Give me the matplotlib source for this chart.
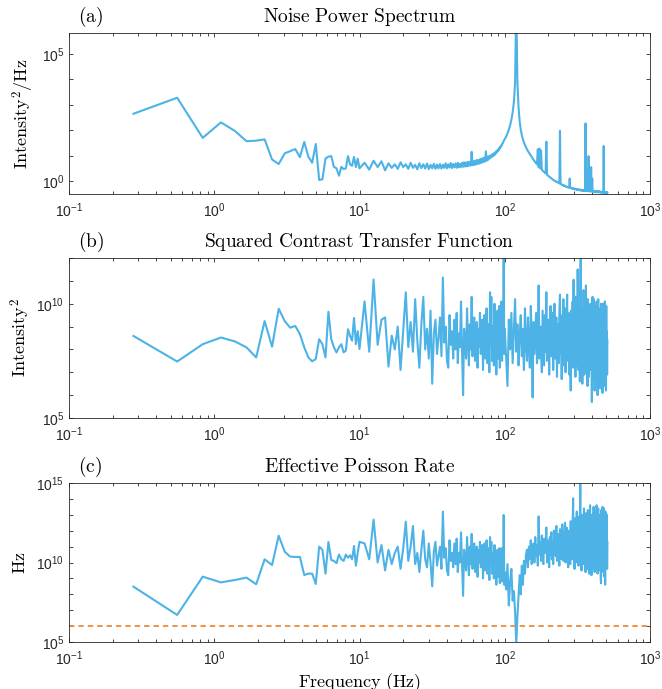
import numpy as np
import matplotlib.pyplot as plt
from matplotlib.ticker import LogLocator, NullLocator

plt.rcParams['font.family'] = 'Liberation Sans'

# frequency bins of the spectrum (bin width 1/3.6 Hz); every bin below 10 Hz,
# every 3rd bin up to 100 Hz, every 8th bin above
df = 1 / 3.6
bins = np.r_[1:37, 39:358:3, 360:1833:8]
freq = df * bins

# (a) noise power spectrum, log10 values
nps_low = [2.65, 3.28, 1.70, 2.31, 1.97, 1.57, 1.59, 1.64, 0.85, 0.67, 1.09, 1.18,
           1.26, 0.94, 1.54, 0.96, 0.72, 1.46, 0.04, 0.07, 0.89, 0.96, 0.98, 0.56,
           0.50, 0.21, 0.56, 0.47, 0.50, 0.98, 0.66, 0.60, 0.95, 0.55, 0.88, 0.50]
nps_mid = [0.72, 0.45, 0.80, 0.55, 0.78, 0.42, 0.70, 0.52, 0.66, 0.48, 0.74, 0.55,
           0.66, 0.48, 0.72, 0.52, 0.64, 0.46, 0.70, 0.51, 0.66, 0.49, 0.69, 0.47,
           0.64, 0.50, 0.68, 0.48, 0.65, 0.50, 0.67, 0.49, 0.64, 0.52, 0.70, 0.50,
           0.66, 0.53, 0.71, 0.51, 0.67, 0.54, 0.69, 0.52, 0.72, 0.54, 0.68, 0.55,
           0.72, 0.56, 0.74, 0.57, 0.73, 0.58, 0.76, 0.60, 0.75, 0.61, 1.15, 0.63,
           0.78, 0.63, 0.80, 0.65, 0.83, 0.67, 0.82, 0.69, 0.86, 0.71, 0.88, 0.73,
           0.90, 0.75, 0.92, 0.78, 1.17, 0.80, 0.96, 0.83, 0.98, 0.88, 0.99, 0.92,
           1.03, 0.95, 1.06, 0.99, 1.10, 1.02, 1.13, 1.08, 1.18, 1.13, 1.22, 1.18,
           1.28, 1.24, 1.33, 1.31, 1.39, 1.38, 1.46, 1.47, 1.53, 1.57, 1.62]
nps_high = [1.65, 1.75, 1.88, 2.02, 2.20, 2.42, 2.70, 3.10, 3.85, 7.00,
            3.90, 2.90, 2.35, 2.02, 1.80, 1.64, 1.52, 1.42, 1.33, 1.25,
            1.18, 1.12, 1.06, 1.00, 0.95, 0.89, 0.84, 0.79, 0.74, 0.70,
            0.66, 1.25, 0.55, 1.28, 0.50, 1.20, 0.44, 0.42, 0.38, 0.36,
            0.33, 0.30, 1.55, 0.24, 0.22, 0.20, 0.17, 0.16, 0.13, 0.12,
            0.09, 0.07, 0.04, 0.04, 0.01, 0.00, -0.02, -0.01, -0.04, -0.05,
            -0.07, -0.06, -0.09, 1.98, -0.12, -0.11, -0.14, -0.16, -0.15, -0.18,
            -0.17, -0.20, -0.19, -0.21, -0.23, -0.22, -0.24, -0.23, -0.25, -0.26,
            -0.24, 0.10, -0.27, -0.26, -0.28, -0.29, -0.27, -0.30, -0.29, -0.31,
            -0.30, -0.32, -0.30, -0.33, -0.31, -0.34, -0.32, -0.33, -0.35, -0.33,
            -0.34, -0.36, -0.33, -0.35, -0.37, -0.34, -0.36, -0.38, -0.35, -0.37,
            -0.36, -0.38, -0.35, -0.39, -0.37, -0.36, -0.38, 2.27, -0.40, -0.37,
            -0.39, -0.38, 0.40, -0.36, -0.40, 0.98, -0.35, -0.41, 0.20, -0.38,
            -0.40, -0.37, 0.55, -0.42, -0.38, 0.10, -0.41, -0.39, -0.43, -0.40,
            -0.41, -0.38, -0.43, -0.40, -0.42, -0.39, -0.44, -0.41, -0.40, -0.43,
            -0.42, -0.44, -0.41, -0.43, -0.40, -0.45, -0.42, -0.43, -0.41, -0.44,
            -0.43, -0.45, -0.42, -0.44, -0.43, -0.46, -0.42, -0.44, -0.45, -0.43,
            -0.44, 1.38, -0.46, -0.43, -0.45, -0.44, -0.47, -0.44, -0.45, -0.46,
            -0.44, -0.46, -0.45, -0.47, -0.45]

# (b) squared contrast transfer function, log10 values
ctf_low = [8.59, 7.47, 8.23, 8.52, 8.35, 8.09, 7.65, 9.24, 8.12, 9.78, 9.24, 8.95,
           9.03, 8.67, 8.09, 7.65, 7.48, 7.58, 8.45, 8.23, 7.65, 9.65, 8.45, 8.09,
           7.87, 8.09, 8.23, 7.87, 7.95, 8.88, 8.59, 8.38, 9.38, 8.23, 8.80, 8.02]
ctf_mid = [10.1, 7.9, 11.06, 8.2, 9.3, 9.4, 7.25, 8.6, 8.0, 9.0, 7.1, 8.8,
           10.5, 8.1, 9.2, 7.9, 10.2, 8.4, 7.2, 9.1, 10.3, 8.0, 8.9, 7.6,
           9.7, 6.5, 8.7, 9.3, 7.8, 8.5, 9.4, 7.7, 11.15, 8.3, 9.0, 7.5,
           7.2, 9.5, 8.2, 8.8, 7.6, 9.3, 8.0, 9.6, 7.4, 8.7, 8.1, 10.1,
           7.9, 6.0, 8.9, 8.3, 7.6, 9.8, 8.4, 7.3, 9.1, 8.0, 10.3, 7.7,
           8.8, 9.4, 7.5, 8.6, 9.2, 7.2, 8.9, 8.1, 9.6, 7.8, 8.5, 9.3,
           7.1, 8.7, 9.5, 7.6, 8.3, 9.8, 7.4, 8.9, 9.1, 7.0, 10.5, 8.2,
           10.3, 7.5, 9.0, 8.6, 7.3, 10.0, 8.1, 9.4, 6.9, 8.8, 9.7, 7.6,
           8.4, 9.9, 7.2, 9.0, 8.3, 10.1, 7.5, 9.2, 8.0, 12.0, 7.8]
ctf_high = [8.9, 7.6, 6.4, 9.3, 8.0, 9.6, 7.4, 8.8, 10.2, 7.9,
            9.1, 7.3, 8.6, 9.5, 7.7, 8.9, 7.1, 9.8, 8.2, 7.5,
            9.4, 8.0, 7.2, 9.9, 8.5, 5.9, 9.2, 7.8, 8.7, 9.6,
            7.4, 8.3, 10.8, 7.6, 9.0, 8.1, 7.0, 9.7, 8.4, 7.3,
            9.5, 7.9, 10.5, 7.5, 8.8, 9.3, 6.9, 8.6, 9.9, 7.7,
            8.2, 9.6, 7.1, 8.9, 10.0, 7.6, 8.4, 9.4, 6.8, 9.1,
            8.0, 7.4, 9.7, 10.4, 7.8, 8.7, 6.7, 9.5, 8.3, 10.2,
            7.3, 8.9, 9.8, 7.0, 8.5, 9.3, 10.4, 7.5, 8.1, 9.6,
            6.9, 9.0, 8.4, 6.2, 9.7, 7.8, 8.8, 10.1, 7.2, 11.05,
            7.6, 9.4, 8.2, 6.8, 10.3, 7.9, 9.1, 7.3, 11.5, 8.5,
            7.1, 9.9, 8.0, 6.6, 10.5, 12.0, 7.4, 9.2, 8.7, 6.5,
            9.8, 7.7, 10.6, 8.3, 6.9, 9.5, 7.2, 8.8, 10.8, 7.0,
            9.3, 8.1, 6.4, 10.2, 7.8, 9.0, 6.8, 9.7, 8.4, 7.1,
            10.0, 7.5, 8.9, 9.6, 5.7, 8.6, 10.3, 7.3, 9.1, 6.7,
            10.2, 8.0, 6.2, 9.5, 7.7, 9.9, 6.5, 8.8, 10.1, 7.2,
            9.4, 6.0, 8.5, 10.2, 7.6, 9.0, 6.9, 9.7, 8.2, 6.3,
            9.8, 7.4, 10.0, 8.7, 6.6, 9.3, 7.9, 6.1, 9.6, 10.0,
            7.0, 8.9, 6.4, 9.5, 7.7, 10.1, 6.8, 9.2, 8.3, 6.2,
            9.9, 7.5, 8.8, 6.9, 8.4]

# (c) effective Poisson rate, log10 values
rate_low = [8.48, 6.70, 9.11, 8.75, 8.90, 9.05, 8.63, 10.20, 9.84, 11.69, 10.68, 10.37,
            10.35, 10.35, 9.21, 9.30, 9.30, 8.65, 11.0, 10.8, 9.3, 11.29, 10.16, 10.1,
            9.96, 10.5, 10.2, 10.1, 10.5, 10.3, 10.45, 10.2, 11.04, 9.8, 10.6, 11.3]
rate_mid = [11.2, 10.2, 12.7, 10.0, 11.1, 9.5, 10.8, 9.9, 10.6, 11.0, 9.6, 10.9,
            12.57, 10.1, 11.0, 12.3, 9.9, 10.6, 9.4, 10.8, 12.0, 10.2, 9.7, 11.2,
            10.0, 8.5, 10.7, 11.3, 9.8, 10.4, 11.0, 9.6, 13.2, 10.3, 10.9, 9.5,
            9.2, 11.4, 10.1, 10.6, 9.7, 11.2, 9.9, 11.5, 9.4, 10.6, 10.0, 11.9,
            9.8, 7.9, 10.8, 10.2, 9.5, 11.6, 10.3, 9.2, 11.0, 9.9, 11.8, 9.6,
            10.7, 11.2, 9.4, 10.5, 11.0, 9.1, 10.8, 10.0, 11.3, 9.7, 10.4, 11.1,
            9.0, 10.6, 11.2, 9.5, 10.2, 11.4, 9.3, 10.7, 10.9, 8.9, 11.6, 10.0,
            11.3, 9.3, 10.6, 10.2, 9.0, 11.1, 9.8, 10.6, 8.6, 10.3, 10.8, 9.1,
            9.8, 10.9, 8.7, 10.2, 9.5, 10.9, 8.8, 9.9, 9.2, 12.99, 8.6]
rate_high = [9.4, 8.3, 9.9, 7.3, 8.8, 9.6, 7.6, 8.2, 6.9, 4.9,
             6.6, 7.9, 9.2, 8.0, 9.8, 8.6, 10.1, 9.3, 10.5, 10.8,
             9.7, 11.0, 10.2, 11.4, 9.9, 10.6, 11.2, 10.0, 11.6, 10.4,
             11.1, 9.8, 12.9, 10.5, 11.3, 10.1, 11.7, 10.3, 9.9, 11.5,
             10.6, 11.2, 12.2, 10.0, 11.4, 10.8, 9.7, 11.6, 10.5, 11.9,
             10.2, 11.3, 9.9, 12.0, 10.7, 11.5, 10.4, 12.3, 10.1, 11.0,
             11.8, 10.3, 9.8, 12.1, 10.9, 11.6, 10.2, 12.4, 11.0, 10.1,
             11.9, 10.6, 12.5, 10.0, 11.3, 12.2, 10.4, 11.7, 9.7, 12.0,
             10.8, 11.5, 9.9, 12.6, 10.5, 11.8, 10.2, 12.3, 14.04, 10.6,
             12.1, 9.6, 11.7, 12.8, 10.3, 11.4, 13.2, 10.0, 12.5, 11.1,
             9.8, 12.9, 10.7, 11.6, 14.92, 10.4, 12.4, 9.5, 13.0, 11.2,
             10.1, 12.7, 9.9, 13.4, 11.0, 10.3, 12.6, 9.4, 13.1, 11.5,
             10.0, 12.2, 9.6, 13.3, 10.8, 11.9, 9.3, 12.8, 10.6, 13.6,
             9.8, 11.7, 12.9, 9.2, 11.4, 13.0, 10.2, 12.3, 9.7, 13.5,
             10.5, 12.0, 9.4, 13.2, 11.1, 10.0, 12.7, 9.6, 13.6, 10.9,
             12.4, 9.3, 11.8, 13.4, 10.1, 12.1, 9.5, 13.0, 11.3, 10.2,
             12.9, 9.0, 8.7, 13.3, 10.6, 12.2, 9.8, 13.5, 11.0, 9.4,
             12.6, 10.3, 13.4, 9.1, 11.9, 12.8, 8.6, 13.2, 10.7, 9.9,
             12.5, 10.4, 13.0, 9.6, 11.3]

rate_floor = 1e6

nps = 10.0 ** np.concatenate([nps_low, nps_mid, nps_high])
ctf = 10.0 ** np.concatenate([ctf_low, ctf_mid, ctf_high])
rate = 10.0 ** np.concatenate([rate_low, rate_mid, rate_high])

blue = '#4DB3E6'
orange = '#EE8A3A'
axcol = '#262626'

fig = plt.figure(figsize=(6.62, 6.89), dpi=100)
W, H = 662, 689


def add_axes(top, bottom):
    return fig.add_axes([69 / W, (H - bottom) / H, 581 / W, (bottom - top) / H])


def style(ax, letter, title, ylabel, ylim, ylabeled, labelx):
    ax.set_xscale('log')
    ax.set_yscale('log')
    ax.set_xlim(0.1, 1000)
    ax.set_ylim(*ylim)
    ax.set_xticks([0.1, 1, 10, 100, 1000])
    ax.xaxis.set_minor_locator(LogLocator(base=10, subs=np.arange(2, 10), numticks=20))
    lo = int(np.ceil(np.log10(ylim[0]) - 1e-9))
    hi = int(np.floor(np.log10(ylim[1]) + 1e-9))
    exps = list(range(lo, hi + 1))
    ax.set_yticks([10.0 ** e for e in exps],
                  labels=[r'$\mathdefault{10^{%d}}$' % e if e in ylabeled else '' for e in exps])
    ax.yaxis.set_minor_locator(NullLocator())
    ax.tick_params(which='both', direction='in', top=True, right=True,
                   color=axcol, labelcolor=axcol, labelsize=10, width=0.6)
    ax.tick_params(axis='x', which='major', pad=5)
    ax.tick_params(which='major', length=3.2)
    ax.tick_params(which='minor', length=2.0)
    for s in ax.spines.values():
        s.set_color(axcol)
        s.set_linewidth(0.6)
    ax.text(0.5, 1.1, r'$\mathrm{%s}$' % title.replace(' ', r'\ '), transform=ax.transAxes,
            ha='center', va='center', fontsize=14, math_fontfamily='cm', color='black')
    ax.text(0.016, 1.1, r'$\mathrm{(%s)}$' % letter, transform=ax.transAxes,
            ha='left', va='center', fontsize=14, math_fontfamily='cm', color='black')
    ax.set_ylabel(ylabel, fontsize=13, math_fontfamily='cm')
    ax.yaxis.set_label_coords(labelx, 0.5)


ax1 = add_axes(33, 194)
ax1.plot(freq, nps, color=blue, lw=1.5)
style(ax1, 'a', 'Noise Power Spectrum', r'$\mathrm{Intensity}^2/\mathrm{Hz}$',
      (10 ** -0.51, 10 ** 5.83), [0, 5], -0.056)

ax2 = add_axes(258, 418)
ax2.plot(freq, ctf, color=blue, lw=1.5)
style(ax2, 'b', 'Squared Contrast Transfer Function', r'$\mathrm{Intensity}^2$',
      (1e5, 1e12), [5, 10], -0.064)

ax3 = add_axes(483, 642)
ax3.plot(freq, rate, color=blue, lw=1.5)
ax3.axhline(rate_floor, color=orange, lw=1.3, ls='--', dashes=(3, 2.2))
style(ax3, 'c', 'Effective Poisson Rate', r'$\mathrm{Hz}$', (1e5, 1e15), [5, 10, 15], -0.068)
ax3.set_xlabel(r'$\mathrm{Frequency\ (Hz)}$', fontsize=13, math_fontfamily='cm')
ax3.xaxis.set_label_coords(0.5, -0.185)

fig.savefig('out.png', dpi=100)
